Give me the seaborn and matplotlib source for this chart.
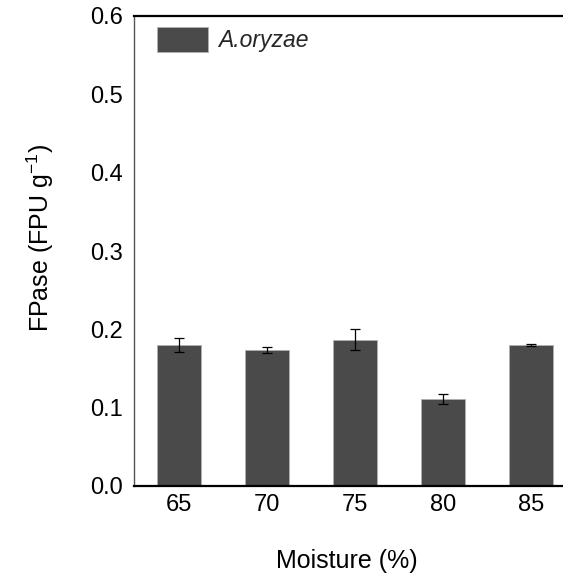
import matplotlib
matplotlib.use("Agg")
import matplotlib.pyplot as plt
import seaborn as sns
import pandas as pd

moisture = ["65", "70", "75", "80", "85"]
fpase = [0.180, 0.174, 0.187, 0.111, 0.180]
fpase_err = [0.009, 0.004, 0.013, 0.006, 0.001]
series_name = "A.oryzae"
y_ticks = [0.0, 0.1, 0.2, 0.3, 0.4, 0.5, 0.6]

sns.set_theme(style="white")
plt.rcParams["font.family"] = ["Liberation Sans", "DejaVu Sans"]
plt.rcParams["mathtext.fontset"] = "custom"
plt.rcParams["mathtext.rm"] = "Liberation Sans"

df = pd.DataFrame({"Moisture": moisture, "FPase": fpase})

fig = plt.figure(figsize=(5.63, 5.74), dpi=100)
W, H = 563, 574
left, right, top, bottom = 134, 576, 16, 486
ax = fig.add_axes([left / W, 1 - bottom / H, (right - left) / W, (bottom - top) / H])

sns.barplot(data=df, x="Moisture", y="FPase", color="#4a4a4a", saturation=1,
            width=0.5, edgecolor="#b0b0b0", linewidth=0.6, label=series_name,
            errorbar=None, ax=ax)
ax.errorbar(range(len(moisture)), fpase, yerr=fpase_err, fmt="none",
            ecolor="black", elinewidth=0.9, capsize=3.5, capthick=0.9)

ax.set_xlim(-0.511, len(moisture) - 1 + 0.511)
ax.set_ylim(0, 0.6)
ax.set_yticks(y_ticks)
ax.set_yticklabels([f"{t:.1f}" for t in y_ticks])
ax.tick_params(axis="both", length=0, labelsize=17, colors="black")
ax.tick_params(axis="y", pad=8)
ax.tick_params(axis="x", pad=6)

for s in ["left", "bottom", "top"]:
    ax.spines[s].set_visible(True)
    ax.spines[s].set_color("black")
ax.spines["left"].set_color("#555555")
ax.spines["left"].set_linewidth(1.0)
ax.spines["bottom"].set_linewidth(1.6)
ax.spines["top"].set_linewidth(1.6)
ax.spines["right"].set_visible(False)

ax.set_xlabel("Moisture (%)", fontsize=18, color="black")
ax.set_ylabel("FPase (FPU g$^{\\mathregular{-1}}$)", fontsize=18, color="black")
ax.xaxis.set_label_coords((347 - left) / (right - left), -(549 - bottom) / (bottom - top))
ax.yaxis.set_label_coords(-(134 - 56) / (right - left), (bottom - 238) / (bottom - top))

leg = ax.legend(loc="upper left", bbox_to_anchor=((157 - left) / (right - left), 1 - (27 - top) / (bottom - top)),
                frameon=False, handlelength=2.23, handleheight=1.3, handletextpad=0.42,
                borderpad=0, borderaxespad=0,
                prop={"style": "italic", "size": 16.5})

fig.savefig("out.png", dpi=100, facecolor="white")
